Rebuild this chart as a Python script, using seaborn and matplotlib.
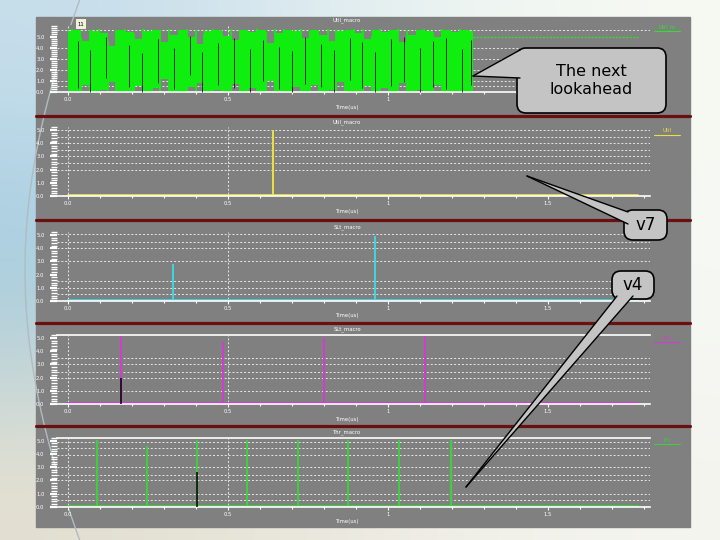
import numpy as np
import pandas as pd
import matplotlib
matplotlib.use("Agg")
import matplotlib.pyplot as plt
import seaborn as sns
from matplotlib.patches import FancyBboxPatch, Polygon, Rectangle
from matplotlib.ticker import MultipleLocator

# ---- data ----
t_end = 1.78

# panel 1: dense burst of activity, then flat "lookahead" level
burst_t = [0.0, 0.0275, 0.055, 0.0825, 0.11, 0.1375, 0.165, 0.1925, 0.22, 0.2475,
           0.275, 0.3025, 0.33, 0.3575, 0.385, 0.4125, 0.44, 0.4675, 0.495, 0.5225,
           0.55, 0.5775, 0.605, 0.6325, 0.66, 0.6875, 0.715, 0.7425, 0.77, 0.7975,
           0.825, 0.8525, 0.88, 0.9075, 0.935, 0.9625, 0.99, 1.0175, 1.045, 1.0725,
           1.1, 1.1275, 1.155, 1.1825, 1.21, 1.2375, 1.265]
burst_hi = [5.5, 5.6, 4.6, 5.5, 5.3, 4.2, 5.6, 5.4, 4.8, 5.5, 5.6, 4.5, 5.2, 5.6, 5.0,
            4.3, 5.5, 5.6, 5.1, 4.7, 5.6, 5.4, 5.6, 4.4, 5.3, 5.6, 5.5, 4.9, 5.6, 5.2,
            4.6, 5.5, 5.6, 5.3, 4.8, 5.6, 5.4, 5.6, 4.5, 5.2, 5.6, 5.5, 5.0, 5.6, 5.4,
            5.6, 5.5]
burst_lo = [0.0, 0.1, 0.6, 0.0, 0.2, 0.9, 0.0, 0.1, 0.5, 0.0, 0.3, 1.2, 0.0, 0.0, 0.4,
            0.8, 0.0, 0.2, 0.0, 0.7, 0.0, 0.3, 0.0, 1.0, 0.1, 0.0, 0.4, 0.0, 0.6, 0.0,
            0.2, 0.9, 0.0, 0.1, 0.5, 0.0, 0.3, 0.0, 0.8, 0.0, 0.2, 0.0, 0.6, 0.0, 0.1,
            0.0, 0.0]
# extra strokes between the samples above (top of each stroke)
burst_mid_hi = [5.7, 5.0, 5.6, 5.7, 4.6, 5.5, 5.7, 5.2, 5.7, 5.0, 5.6, 5.7, 4.9, 5.7,
                5.6, 5.2, 5.7, 5.3, 5.7, 5.6, 5.0, 5.7, 5.4, 5.7, 5.7, 5.1, 5.7, 5.5,
                5.0, 5.7, 5.6, 5.2, 5.7, 5.7, 5.1, 5.7, 5.3, 5.7, 5.6, 5.0, 5.7, 5.4,
                5.7, 5.2, 5.7, 5.6]
black_t = [0.03, 0.07, 0.12, 0.19, 0.23, 0.28, 0.33, 0.38, 0.42, 0.47, 0.52, 0.57,
           0.61, 0.66, 0.70, 0.74, 0.79, 0.83, 0.88, 0.92, 0.96, 1.01, 1.05, 1.10,
           1.14, 1.18, 1.23, 1.26]
black_lo = [0.3, 0.0, 1.2, 0.4, 0.0, 0.8, 0.2, 1.5, 0.0, 0.6, 0.3, 0.0, 1.0, 0.2,
            0.0, 0.7, 0.4, 0.0, 1.1, 0.3, 0.0, 0.5, 0.9, 0.0, 0.4, 0.2, 0.0, 0.6]
black_hi = [4.6, 3.8, 5.0, 4.2, 3.5, 4.8, 4.0, 5.1, 3.6, 4.4, 4.9, 3.9, 4.7, 4.1,
            3.7, 5.0, 4.3, 3.8, 4.9, 4.5, 3.6, 4.8, 5.0, 4.0, 4.6, 4.9, 3.9, 4.7]
tail_t = [1.265, 1.78]
tail_v = [5.0, 5.0]

# panels 2-5: spikes on a flat baseline (time, height)
yellow_t, yellow_h = [0.64], [4.9]
cyan_t, cyan_h = [0.327, 0.96], [2.7, 4.85]
magenta_t, magenta_h = [0.166, 0.483, 0.80, 1.116], [5.2, 4.6, 4.9, 5.15]
green_t = [0.09, 0.246, 0.402, 0.56, 0.72, 0.876, 1.035, 1.196]
green_h = [5.0, 4.5, 5.0, 5.0, 5.0, 5.0, 5.0, 5.0]
magenta_black_t, magenta_black_h = [0.166], [2.0]
green_black_t, green_black_h = [0.402], [2.6]

y_ticks = [0, 1, 2, 3, 4, 5]
y_labels = ["0.0", "1.0", "2.0", "3.0", "4.0", "5.0"]
x_ticks = [0.0, 0.5, 1.0, 1.5]
x_labels = ["0.0", "0.5", "1", "1.5"]
titles = ["Util_macro", "Util_macro", "SLt_macro", "SLt_macro", "Thr_macro"]
legends = ["Util_m", "Util", "", "SLt", "Thr"]

# ---- style ----
sns.set_theme(style="dark", rc={"axes.facecolor": "#808080"})
plt.rcParams["font.family"] = ["DejaVu Sans"]

W, H = 720, 540
fig = plt.figure(figsize=(7.2, 5.4), dpi=100)

# slide background
bg = fig.add_axes([0, 0, 1, 1], zorder=-10)
grad = np.array([[[0.78, 0.87, 0.92], [0.90, 0.94, 0.95], [0.97, 0.98, 0.95]],
                 [[0.60, 0.78, 0.87], [0.85, 0.90, 0.90], [0.97, 0.98, 0.96]],
                 [[0.90, 0.88, 0.82], [0.93, 0.92, 0.88], [0.96, 0.96, 0.94]]])
bg.imshow(grad, extent=[0, W, H, 0], interpolation="bicubic", aspect="auto")
arc = np.linspace(-0.5, 0.5, 60)
bg.plot(25 + 100 * (1 - np.cos(arc * 2.2)), 270 + 540 * arc, color="#b0bcc0", lw=1)
bg.add_patch(Rectangle((36, 17), 654, 510, color="#808080"))
for yy in [116, 219.5, 323, 426]:
    bg.plot([36, 690], [yy, yy], color="#6a1010", lw=2.3)
bg.set_xlim(0, W)
bg.set_ylim(H, 0)
bg.axis("off")

# panel layout in pixels: top, zero line, bottom, px per unit
panels = [(25, 91.7, 93.5, 11.0), (127, 196, 198, 13.2), (232, 301, 303, 13.2),
          (335, 404, 406, 13.2), (438, 506.7, 508.7, 13.2)]
grid_levels = [[0.5, 1, 2, 3, 4, 5.6], [2, 2.5, 3, 3.5, 4, 4.5, 5],
               [0.5, 1, 1.5, 3, 4, 4.5, 5.1], [1, 2, 2.4, 3, 3.5],
               [0.5, 1, 2, 2.4, 3, 3.9, 4.45, 4.9]]
left_px, right_px, zero_px, ppx = 57, 650, 68, 320.0

axes = []
for i, (top, zero, bot, ppu) in enumerate(panels):
    ax = fig.add_axes([left_px / W, 1 - bot / H, (right_px - left_px) / W, (bot - top) / H])
    ax.set_xlim(-(zero_px - left_px) / ppx, (right_px - zero_px) / ppx)
    ax.set_ylim(-(bot - zero) / ppu, (zero - top) / ppu)
    ax.set_facecolor("#808080")
    for s in ["left", "right", "top"]:
        ax.spines[s].set_visible(False)
    ax.spines["bottom"].set_color("white")
    ax.spines["bottom"].set_linewidth(1.2)
    ax.spines["bottom"].set_position(("data", 0))
    if i >= 3:
        ax.spines["top"].set_visible(True)
        ax.spines["top"].set_color("white")
        ax.spines["top"].set_linewidth(1.2)
    ax.set_yticks(y_ticks)
    ax.set_yticklabels(y_labels)
    ax.yaxis.set_minor_locator(MultipleLocator(0.2))
    ax.set_xticks(x_ticks)
    ax.set_xticklabels(x_labels)
    ax.xaxis.set_minor_locator(MultipleLocator(0.1))
    ax.tick_params(axis="y", which="major", colors="white", labelsize=3.8, length=5,
                   width=1.6, direction="out", pad=4, left=True)
    ax.tick_params(axis="y", which="minor", colors="white", length=4, width=1.0, left=True)
    ax.tick_params(axis="x", which="major", colors="white", labelsize=3.8, length=2,
                   width=0.8, pad=1.5, bottom=True)
    ax.tick_params(axis="x", which="minor", colors="white", length=1.5, width=0.8, bottom=True)
    for lv in grid_levels[i]:
        ax.axhline(lv, color="#e8e8e8", lw=0.7, ls=(0, (2, 2)), zorder=0)
    for xv in [0.0, 0.5]:
        ax.axvline(xv, color="#e8e8e8", lw=0.7, ls=(0, (2, 2)), zorder=0)
    axes.append(ax)


def spike_frame(times, heights, base=0.05):
    xs, ys = [0.0], [base]
    for t, h in zip(times, heights):
        xs += [t, t, t]
        ys += [base, h, base]
    xs.append(t_end)
    ys.append(base)
    return pd.DataFrame({"t": xs, "v": ys})


# panel 1
a = axes[0]
a.fill_between(burst_t, burst_lo, burst_hi, step="mid", color="#10ee10", lw=0, zorder=2)
mid_t = [(p + q) / 2 for p, q in zip(burst_t[:-1], burst_t[1:])]
a.vlines(mid_t, 0, burst_mid_hi, color="#10ee10", lw=1.3, zorder=2)
a.vlines(black_t, black_lo, black_hi, color="#111111", lw=0.6, zorder=3)
sns.lineplot(x=tail_t, y=tail_v, ax=a, color="#30e030", lw=1.0, ls=(0, (1.5, 1)), zorder=2)

# panels 2-5
sns.lineplot(data=spike_frame(yellow_t, yellow_h), x="t", y="v", sort=False,
             estimator=None, ax=axes[1], color="#e6e040", lw=1.3)
sns.lineplot(data=spike_frame(cyan_t, cyan_h), x="t", y="v", sort=False,
             estimator=None, ax=axes[2], color="#3fd4e0", lw=1.3)
sns.lineplot(data=spike_frame(magenta_t, magenta_h), x="t", y="v", sort=False,
             estimator=None, ax=axes[3], color="#d23cd2", lw=1.3)
axes[3].vlines(magenta_black_t, 0, magenta_black_h, color="black", lw=1.1, zorder=4)
sns.lineplot(data=spike_frame(green_t, green_h), x="t", y="v", sort=False,
             estimator=None, ax=axes[4], color="#3cd03c", lw=1.3)
axes[4].vlines(green_black_t, 0, green_black_h, color="black", lw=1.1, zorder=4)
for ax in axes:
    ax.set_xlabel("")
    ax.set_ylabel("")

# ---- overlay: titles, legends, callouts ----
ov = fig.add_axes([0, 0, 1, 1], zorder=10)
ov.set_xlim(0, W)
ov.set_ylim(H, 0)
ov.axis("off")
trace_cols = ["#30e030", "#e6e040", "#3fd4e0", "#d23cd2", "#3cd03c"]
title_y = [20, 122, 227, 329, 432]
xlab_y = [107, 212, 316, 419, 521]
leg_y = [27, 131, 234, 338, 440]
for i in range(5):
    ov.text(347, title_y[i], titles[i], color="white", fontsize=3.8, ha="center", va="center")
    ov.text(348, xlab_y[i], "Time(us)", color="white", fontsize=3.8, ha="center", va="center")
    if legends[i]:
        ov.text(667, leg_y[i], legends[i], color=trace_cols[i], fontsize=3.8,
                ha="center", va="center")
        ov.plot([654, 680], [leg_y[i] + 4, leg_y[i] + 4], color=trace_cols[i], lw=0.8)
ov.text(81, 24, "11", fontsize=3.8, ha="center", va="center", color="black",
        bbox=dict(boxstyle="square,pad=0.4", fc="#f2f0d8", ec="none"))


def callout(box, tail, text, size):
    x0, y0, x1, y1 = box
    ov.add_patch(FancyBboxPatch((x0, y0), x1 - x0, y1 - y0,
                                boxstyle="round,pad=0,rounding_size=9",
                                fc="#c4c4c4", ec="black", lw=1.2, zorder=5))
    tip, b1, b2 = tail
    ov.add_patch(Polygon([tip, b1, b2], closed=True, fc="#c4c4c4", ec="none", zorder=6))
    ov.plot([tip[0], b1[0]], [tip[1], b1[1]], color="black", lw=1.0, zorder=7)
    ov.plot([tip[0], b2[0]], [tip[1], b2[1]], color="black", lw=1.0, zorder=7)
    ov.text((x0 + x1) / 2, (y0 + y1) / 2, text, fontsize=size, ha="center",
            va="center", color="black", zorder=8, linespacing=1.3)


callout((517, 48, 666, 113), ((473, 76), (520, 50), (520, 78)), "The next\nlookahead", 11.5)
callout((624, 210, 667, 240), ((527, 176), (628, 212), (628, 224)), "v7", 12)
callout((612, 271, 654, 299), ((466, 487), (617, 296), (633, 296)), "v4", 12)

fig.savefig("out.png", dpi=100)
